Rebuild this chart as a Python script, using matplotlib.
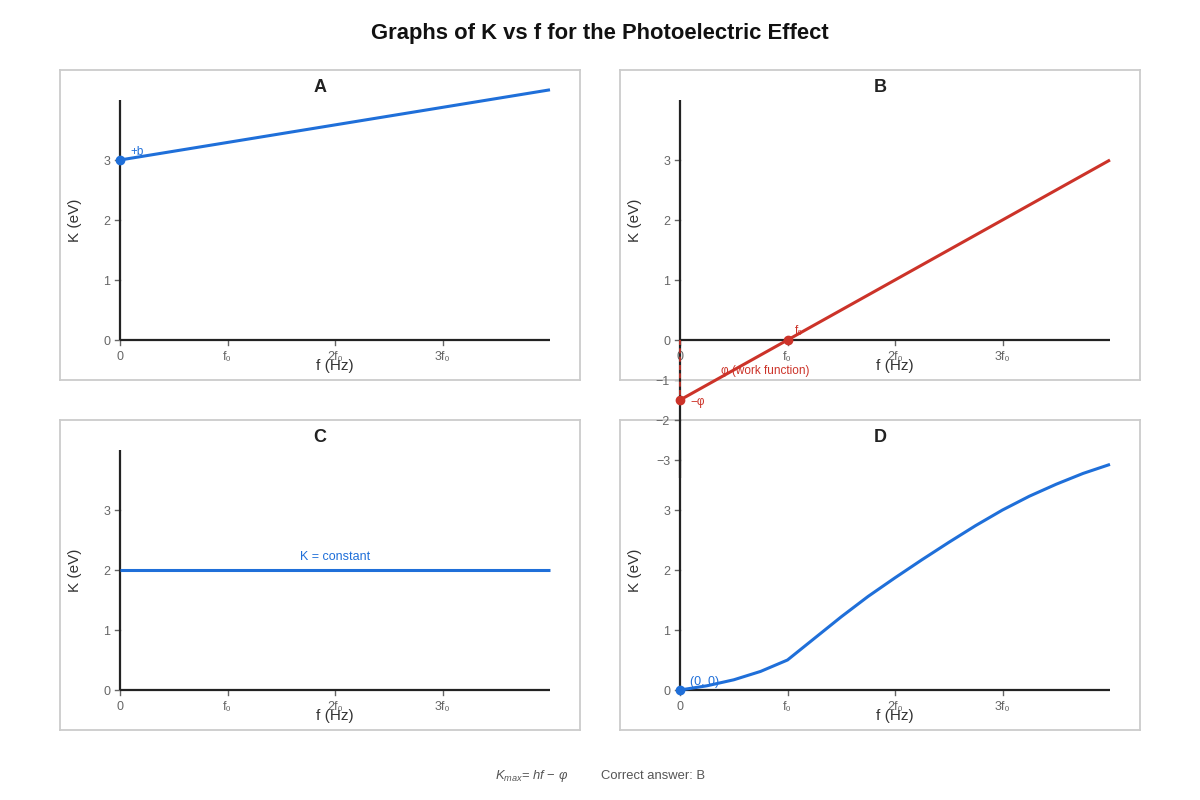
import matplotlib
matplotlib.use("Agg")
import matplotlib.pyplot as plt

plt.rcParams['font.family'] = ['Liberation Sans', 'DejaVu Sans']
plt.rcParams['mathtext.fontset'] = 'custom'
plt.rcParams['mathtext.it'] = 'Liberation Sans:italic'
plt.rcParams['mathtext.rm'] = 'Liberation Sans'

# ---- data ----
freq_ticks = [0, 1, 2, 3]
freq_labels = ['0', 'f₀', '2f₀', '3f₀']
k_ticks = [0, 1, 2, 3]
k_labels = ['0', '1', '2', '3']
b_neg_labels = ['−1', '−2', '−3']

a_f = [0, 4]
a_k = [3.0, 4.17]

b_f = [0, 1, 4]
b_k = [-1.0, 0.0, 3.0]

c_f = [0, 4]
c_k = [2.0, 2.0]

d_f = [0, 0.25, 0.5, 0.75, 1.0, 1.25, 1.5, 1.75, 2.0, 2.25, 2.5, 2.75, 3.0, 3.25, 3.5, 3.75, 4.0]
d_k = [0, 0.07, 0.17, 0.31, 0.5, 0.86, 1.22, 1.56, 1.87, 2.17, 2.46, 2.74, 3.0, 3.23, 3.43, 3.61, 3.76]

BLUE = '#1f6fd9'
RED = '#cc3329'
AXC = '#222222'
TICKC = '#666666'

fig = plt.figure(figsize=(12, 8), dpi=100)
fig.patch.set_facecolor('white')

XPX = 107.5  # px per f0
YPX = 60.0   # px per eV


def make_panel(left_px, top_px, title):
    w, h = 520, 310
    ax = fig.add_axes([left_px / 1200, (800 - top_px - h) / 800, w / 1200, h / 800])
    ax.set_facecolor('none')
    ax.set_xlim(-60 / XPX, 4 + 30 / XPX)
    ax.set_ylim(-40 / YPX, 4 + 30 / YPX)
    ax.set_xticks([])
    ax.set_yticks([])
    for s in ax.spines.values():
        s.set_color('#cccccc')
        s.set_linewidth(1.3)
    # axes lines
    ax.plot([0, 4], [0, 0], color=AXC, lw=1.6, zorder=3, solid_capstyle='butt')
    ax.plot([0, 0], [0, 4], color=AXC, lw=1.6, zorder=3, solid_capstyle='butt')
    # x ticks
    for xt, lab in zip(freq_ticks, freq_labels):
        ax.plot([xt, xt], [0, -5 / YPX], color=TICKC, lw=1.0, zorder=2)
        ax.text(xt, -17 / YPX, lab, ha='center', va='center', fontsize=9, color=TICKC)
    for yt, lab in zip(k_ticks, k_labels):
        ax.plot([-5 / XPX, 0], [yt, yt], color=TICKC, lw=1.0, zorder=2)
        ax.text(-10 / XPX, yt - 2 / YPX, lab, ha='right', va='center', fontsize=9, color=TICKC)
    ax.text(2, -26 / YPX, 'f (Hz)', ha='center', va='center', fontsize=11, color='#333333')
    ax.text(-45 / XPX, 2, 'K (eV)', ha='center', va='center', rotation=90, fontsize=11, color='#333333')
    ax.text(0.5, 1 - 18 / 310, title, transform=ax.transAxes, ha='center', va='center',
            fontsize=13, fontweight='bold', color='#222222')
    return ax


axA = make_panel(60, 70, 'A')
axB = make_panel(620, 70, 'B')
axC = make_panel(60, 420, 'C')
axD = make_panel(620, 420, 'D')
axB.set_zorder(2)

# Panel A
axA.plot(a_f, a_k, color=BLUE, lw=2.2, clip_on=False, zorder=4, solid_capstyle='butt')
axA.plot([a_f[0]], [a_k[0]], 'o', color=BLUE, ms=6, clip_on=False, zorder=5)
axA.text(10 / XPX, a_k[0] + 8 / YPX, '+b', ha='left', va='center', fontsize=8.5, color=BLUE)

# Panel B
axB.plot([0, 0], [0, -138 / YPX], color=AXC, lw=1.6, clip_on=False, zorder=3, solid_capstyle='butt')
for i, lab in enumerate(b_neg_labels):
    yy = -(i + 1) * 40 / YPX
    axB.plot([-5 / XPX, 0], [yy, yy], color=TICKC, lw=1.0, clip_on=False, zorder=2)
    axB.text(-10 / XPX, yy - 2 / YPX, lab, ha='right', va='center', fontsize=9, color=TICKC, clip_on=False)
axB.plot([0, 0], [0, b_k[0]], color=RED, lw=1.2, ls=(0, (3, 2)), clip_on=False, zorder=4)
axB.plot(b_f, b_k, color=RED, lw=2.2, clip_on=False, zorder=5, solid_capstyle='butt')
axB.plot([b_f[0], b_f[1]], [b_k[0], b_k[1]], 'o', color=RED, ms=6, clip_on=False, zorder=6)
axB.text(1.07, 0.15, 'f₀', ha='left', va='center', fontsize=8.5, color=RED)
axB.text(0.79, -0.52, 'φ (work function)', ha='center', va='center', fontsize=8.5, color=RED, clip_on=False)
axB.text(10 / XPX, b_k[0] - 0.03, '−φ', ha='left', va='center', fontsize=8.5, color=RED, clip_on=False)

# Panel C
axC.plot(c_f, c_k, color=BLUE, lw=2.2, zorder=4, solid_capstyle='butt')
axC.text(2, c_k[0] + 13 / YPX, 'K = constant', ha='center', va='center', fontsize=9, color=BLUE)

# Panel D
axD.plot(d_f, d_k, color=BLUE, lw=2.2, zorder=4, solid_joinstyle='round', solid_capstyle='butt')
axD.plot([d_f[0]], [d_k[0]], 'o', color=BLUE, ms=6, clip_on=False, zorder=5)
axD.text(10 / XPX, 0.14, '(0, 0)', ha='left', va='center', fontsize=9, color=BLUE)

# Titles / footer
fig.text(0.5, 1 - 33 / 800, 'Graphs of K vs f for the Photoelectric Effect', ha='center', va='center',
         fontsize=15.8, fontweight='bold', color='#111111')
fig.text(495 / 1200, 1 - 776 / 800, r'$K_{max}$= $hf$ − $\varphi$', ha='left', va='center',
         fontsize=9.4, color='#555555')
fig.text(601 / 1200, 1 - 776 / 800, 'Correct answer: B', ha='left', va='center',
         fontsize=9.4, color='#555555')

fig.savefig('out.png', dpi=100, facecolor='white')
